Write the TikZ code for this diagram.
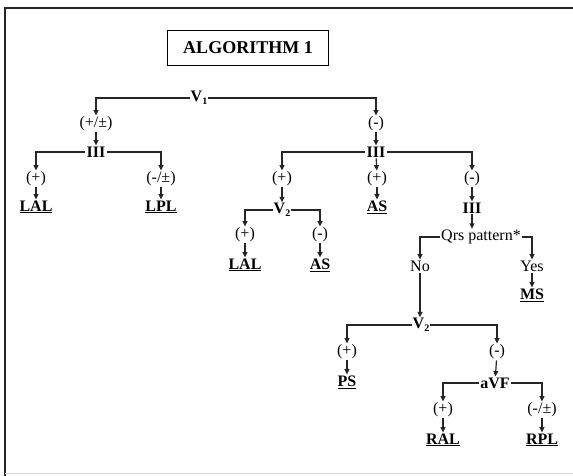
\documentclass[tikz,border=0pt]{standalone}
\usepackage{fontspec}
\setmainfont{Liberation Serif}
\usetikzlibrary{arrows.meta}
\newcommand{\lowidx}[1]{\raisebox{-0.35ex}{\fontsize{10}{10}\selectfont #1}}
\begin{document}
\begin{tikzpicture}[x=1pt,y=-1pt,
  lbl/.style={inner sep=1pt, font=\fontsize{16}{16}\selectfont},
  blbl/.style={lbl, font=\fontsize{16}{16}\selectfont\bfseries},
  res/.style={lbl, font=\fontsize{16}{16}\selectfont\bfseries},
  link/.style={line width=1.2pt, black!85},
  arr/.style={link, -{Triangle[length=5.5pt,width=5pt]}}]
\useasboundingbox (0,0) rectangle (573,476);
% page frame
\draw[line width=2pt, black!85] (5,476) -- (5,8) -- (573,8);
\draw[line width=1pt, black!15] (5,473) -- (573,473);
% title
\node[draw, line width=1pt, minimum width=161pt, minimum height=35pt,
      font=\fontsize{18}{18}\selectfont\bfseries] (title) at (248,48) {ALGORITHM 1};
% first level
\node[blbl] (V1) at (199,98) {V\lowidx{1}};
\node[lbl] (pp) at (96,124) {(+/±)};
\node[lbl] (mm) at (376,124) {(-)};
\node[blbl] (IIIa) at (96,152) {III};
\node[blbl] (IIIb) at (376,152) {III};
% left branch
\node[lbl] (a1) at (36,179) {(+)};
\node[res] (LALa) at (36,207) {\underline{LAL}};
\node[lbl] (a2) at (161,179) {(-/±)};
\node[res] (LPL) at (161,207) {\underline{LPL}};
% right branch
\node[lbl] (b1) at (282,179) {(+)};
\node[blbl] (V2a) at (282,210) {V\lowidx{2}};
\node[lbl] (b2) at (377,179) {(+)};
\node[res] (ASa) at (377,207) {\underline{AS}};
\node[lbl] (b3) at (472,179) {(-)};
\node[blbl] (IIIc) at (472,208) {III};
\node[lbl] (qrs) at (481,237) {Qrs pattern*};
\node[lbl] (c1) at (245,235) {(+)};
\node[res] (LALb) at (245,265) {\underline{LAL}};
\node[lbl] (c2) at (320,235) {(-)};
\node[res] (ASb) at (320,265) {\underline{AS}};
\node[lbl] (no) at (420,266) {No};
\node[lbl] (yes) at (532,266) {Yes};
\node[res] (MS) at (532,295) {\underline{MS}};
\node[blbl] (V2b) at (421,325) {V\lowidx{2}};
\node[lbl] (d1) at (347,352) {(+)};
\node[res] (PS) at (347,382) {\underline{PS}};
\node[lbl] (d2) at (497,352) {(-)};
\node[blbl] (aVF) at (495,383) {aVF};
\node[lbl] (e1) at (443,410) {(+)};
\node[res] (RAL) at (443,440) {\underline{RAL}};
\node[lbl] (e2) at (542,410) {(-/±)};
\node[res] (RPL) at (542,440) {\underline{RPL}};
% connectors
\draw[arr] (V1.west) -| (pp.north);
\draw[arr] (V1.east) -| (mm.north);
\draw[arr] (pp) -- (IIIa);
\draw[arr] (mm) -- (IIIb);
\draw[arr] (IIIa.west) -| (a1.north);
\draw[arr] (IIIa.east) -| (a2.north);
\draw[arr] (a1) -- (LALa);
\draw[arr] (a2) -- (LPL);
\draw[arr] (IIIb.west) -| (b1.north);
\draw[arr] (IIIb) -- (b2);
\draw[arr] (IIIb.east) -| (b3.north);
\draw[arr] (b1) -- (V2a);
\draw[arr] (b2) -- (ASa);
\draw[arr] (b3) -- (IIIc);
\draw[arr] (IIIc) -- (IIIc |- qrs.north);
\draw[arr] (V2a.west) -| (c1.north);
\draw[arr] (V2a.east) -| (c2.north);
\draw[arr] (c1) -- (LALb);
\draw[arr] (c2) -- (ASb);
\draw[arr] (qrs.west) -| (no.north);
\draw[arr] (qrs.east) -| (yes.north);
\draw[arr] (yes) -- (MS);
\draw[arr] (no) -- (no |- V2b.north);
\draw[arr] (V2b.west) -| (d1.north);
\draw[arr] (V2b.east) -| (d2.north);
\draw[arr] (d1) -- (PS);
\draw[arr] (d2) -- (aVF);
\draw[arr] (aVF.west) -| (e1.north);
\draw[arr] (aVF.east) -| (e2.north);
\draw[arr] (e1) -- (RAL);
\draw[arr] (e2) -- (RPL);
\end{tikzpicture}
\end{document}
